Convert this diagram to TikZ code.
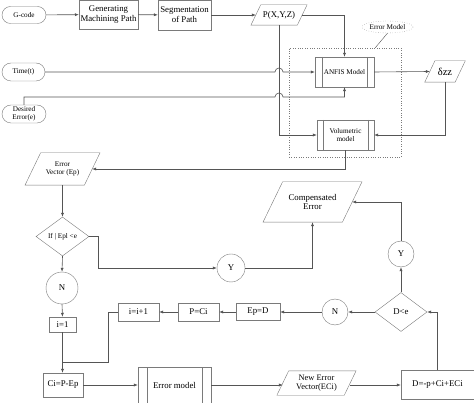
\documentclass[tikz,border=0pt]{standalone}
\usepackage{fontspec}
\setmainfont{Liberation Serif}
\usetikzlibrary{shapes.geometric, shapes.misc, arrows.meta, positioning}
\definecolor{linegray}{HTML}{555555}
\definecolor{boxgray}{HTML}{7A7A7A}
\tikzset{
    smalltxt/.style={font=\fontsize{7.2}{8.2}\selectfont},
    bigtxt/.style={font=\fontsize{8.8}{9.8}\selectfont},
    terminal/.style={
        rounded rectangle, draw=boxgray, inner sep=0pt, align=center, smalltxt
    },
    process/.style={
        rectangle, draw=boxgray, inner sep=0pt, align=center, bigtxt
    },
    subproc/.style={
        rectangle, draw=boxgray, inner sep=0pt, align=center, smalltxt,
        path picture={
            \draw[boxgray] ([xshift=#1]path picture bounding box.north west) -- ([xshift=#1]path picture bounding box.south west);
            \draw[boxgray] ([xshift=-#1]path picture bounding box.north east) -- ([xshift=-#1]path picture bounding box.south east);
        }
    },
    subproc/.default=7pt,
    % parallelogram round a plain box, #1 = half of the slant
    dataio/.style={
        rectangle, inner sep=0pt, align=center, bigtxt,
        append after command={
            \pgfextra{
                \draw[boxgray] ([xshift=#1]\tikzlastnode.north west) -- ([xshift=#1]\tikzlastnode.north east)
                    -- ([xshift=-#1]\tikzlastnode.south east) -- ([xshift=-#1]\tikzlastnode.south west) -- cycle;
            }
        }
    },
    dataio/.default=5pt,
    decision/.style={
        diamond, draw=boxgray, inner sep=0pt, align=center, bigtxt
    },
    answer/.style={
        circle, draw=boxgray, inner sep=0pt, minimum size=27pt, bigtxt
    },
    arrow/.style={
        draw=linegray, line width=0.6pt, ->
    },
    line/.style={
        draw=linegray, line width=0.6pt
    }
}

\begin{document}
\begin{tikzpicture}[x=1pt, y=-1pt, >={Latex[length=4pt,width=3.2pt]}]
    \useasboundingbox (0,0) rectangle (474,403);

    % Inputs
    \node[terminal, minimum width=44pt, minimum height=17pt] (gcode) at (24,15) {G-code};
    \node[terminal, minimum width=43pt, minimum height=18pt] (time) at (23.5,72) {Time(t)};
    \node[terminal, minimum width=44pt, minimum height=18pt] (deserr) at (24,114) {Desired\\Error(e)};

    % Path preparation
    \node[process, minimum width=59pt, minimum height=29pt] (genpath) at (108.5,14.5) {Generating\\Machining Path};
    \node[process, minimum width=53pt, minimum height=30pt] (segpath) at (184.5,15) {Segmentation\\of Path};
    \node[dataio=4.9pt, minimum width=46pt, minimum height=20pt] (pxyz) at (279,15) {P(X,Y,Z)};

    % Error model
    \node[draw=boxgray, dotted, minimum width=112pt, minimum height=109pt] (errbox) at (345,102.5) {};
    \node[ellipse, draw=boxgray, dotted, inner sep=0pt, minimum width=51pt, minimum height=12pt, smalltxt] (emlabel) at (387.5,27) {Error Model};
    \node[subproc, minimum width=59pt, minimum height=30pt] (anfis) at (344.5,72) {ANFIS Model};
    \node[subproc=6pt, minimum width=57pt, minimum height=30pt] (volmod) at (345.5,135) {Volumetric\\model};
    \node[dataio=5.1pt, minimum width=30pt, minimum height=21pt, font=\fontsize{10.5}{12}\selectfont] (dzz) at (445,71.5) {δzz};

    % Compensation loop
    \node[dataio=7.8pt, smalltxt, minimum width=59pt, minimum height=32pt] (errvec) at (62.5,169) {Error\\Vector (Ep)};
    \node[decision, smalltxt, minimum width=53pt, minimum height=39pt] (ifdia) at (62.5,236.5) {If | Epl <e};
    \node[answer, minimum size=28pt] (yleft) at (231,268) {Y};
    \node[dataio=9.8pt, minimum width=79pt, minimum height=40pt] (comperr) at (312.5,202) {Compensated\\Error};
    \node[answer, minimum size=26pt] (yright) at (401,254) {Y};
    \node[answer, minimum size=32pt] (nleft) at (62,288) {N};
    \node[process, minimum width=27pt, minimum height=15pt] (ione) at (62.5,324.5) {i=1};
    \node[process, minimum width=40pt, minimum height=24pt] (cicalc) at (63,385) {Ci=P-Ep};
    \node[process, minimum width=41pt, minimum height=18pt] (iinc) at (138.5,312) {i=i+1};
    \node[process, minimum width=41pt, minimum height=18pt] (pci) at (198.5,312) {P=Ci};
    \node[process, minimum width=44pt, minimum height=17pt] (epd) at (258,312) {Ep=D};
    \node[answer, minimum size=26pt] (nright) at (335,312) {N};
    \node[decision, minimum width=52pt, minimum height=39pt] (dlte) at (401,312) {D<e};
    \node[subproc=9pt, bigtxt, minimum width=73pt, minimum height=36pt] (errmod) at (174.5,385) {Error model};
    \node[dataio=5.9pt, font=\fontsize{8.4}{9.4}\selectfont, minimum width=67pt, minimum height=24pt] (newerr) at (316.5,383) {New Error\\Vector(ECi)};
    \node[process, minimum width=73pt, minimum height=29pt] (dcalc) at (437.5,385) {D=-p+Ci+ECi};

    % Connectors, top part
    \draw[arrow] (gcode) -- (genpath);
    \draw[arrow] (genpath) -- (segpath);
    \draw[arrow] (segpath) -- (pxyz);
    \draw[arrow] (pxyz.east) -| (anfis.north);
    \draw[arrow] (time.east) -- (275,72) arc (180:360:4) -- (anfis.west);
    \draw[arrow] (deserr.north) |- (275,97) arc (180:360:4) -| (anfis.south);
    \draw[arrow] (pxyz.south) |- (volmod.west);
    \draw[arrow] (anfis.east) -- (dzz.west);
    \draw[arrow] (dzz.south) |- (volmod.east);
    \draw[line, line width=0.4pt] (emlabel.south) -- ([xshift=-26pt]errbox.north east);
    \draw[arrow] (volmod.south) |- (errvec.east);

    % Connectors, loop
    \draw[arrow] (errvec.south) -- (ifdia.north);
    \draw[arrow] (ifdia.east) -- ++(9,0) |- (yleft.west);
    \draw[arrow] (yleft.east) -| (comperr.south);
    \draw[arrow] (ifdia.south) -- (nleft.north);
    \draw[arrow] (nleft.south) -- (ione.north);
    \draw[arrow] (ione.south) -- (ione.south |- cicalc.north);
    \draw[line] (iinc.west) -- ++(-10,0) |- ([yshift=10pt]cicalc.north);
    \draw[arrow] (cicalc) -- (errmod);
    \draw[arrow] (errmod.east) -- (errmod.east -| newerr.west);
    \draw[arrow] (newerr.east |- dcalc.west) -- (dcalc.west);
    \draw[arrow] (dcalc.north) |- (dlte.east);
    \draw[arrow] (dlte) -- (nright);
    \draw[arrow] (nright) -- (epd);
    \draw[arrow] (epd) -- (pci);
    \draw[arrow] (pci) -- (iinc);
    \draw[arrow] (dlte) -- (yright);
    \draw[arrow] (yright.north) |- (comperr.east);

\end{tikzpicture}
\end{document}
